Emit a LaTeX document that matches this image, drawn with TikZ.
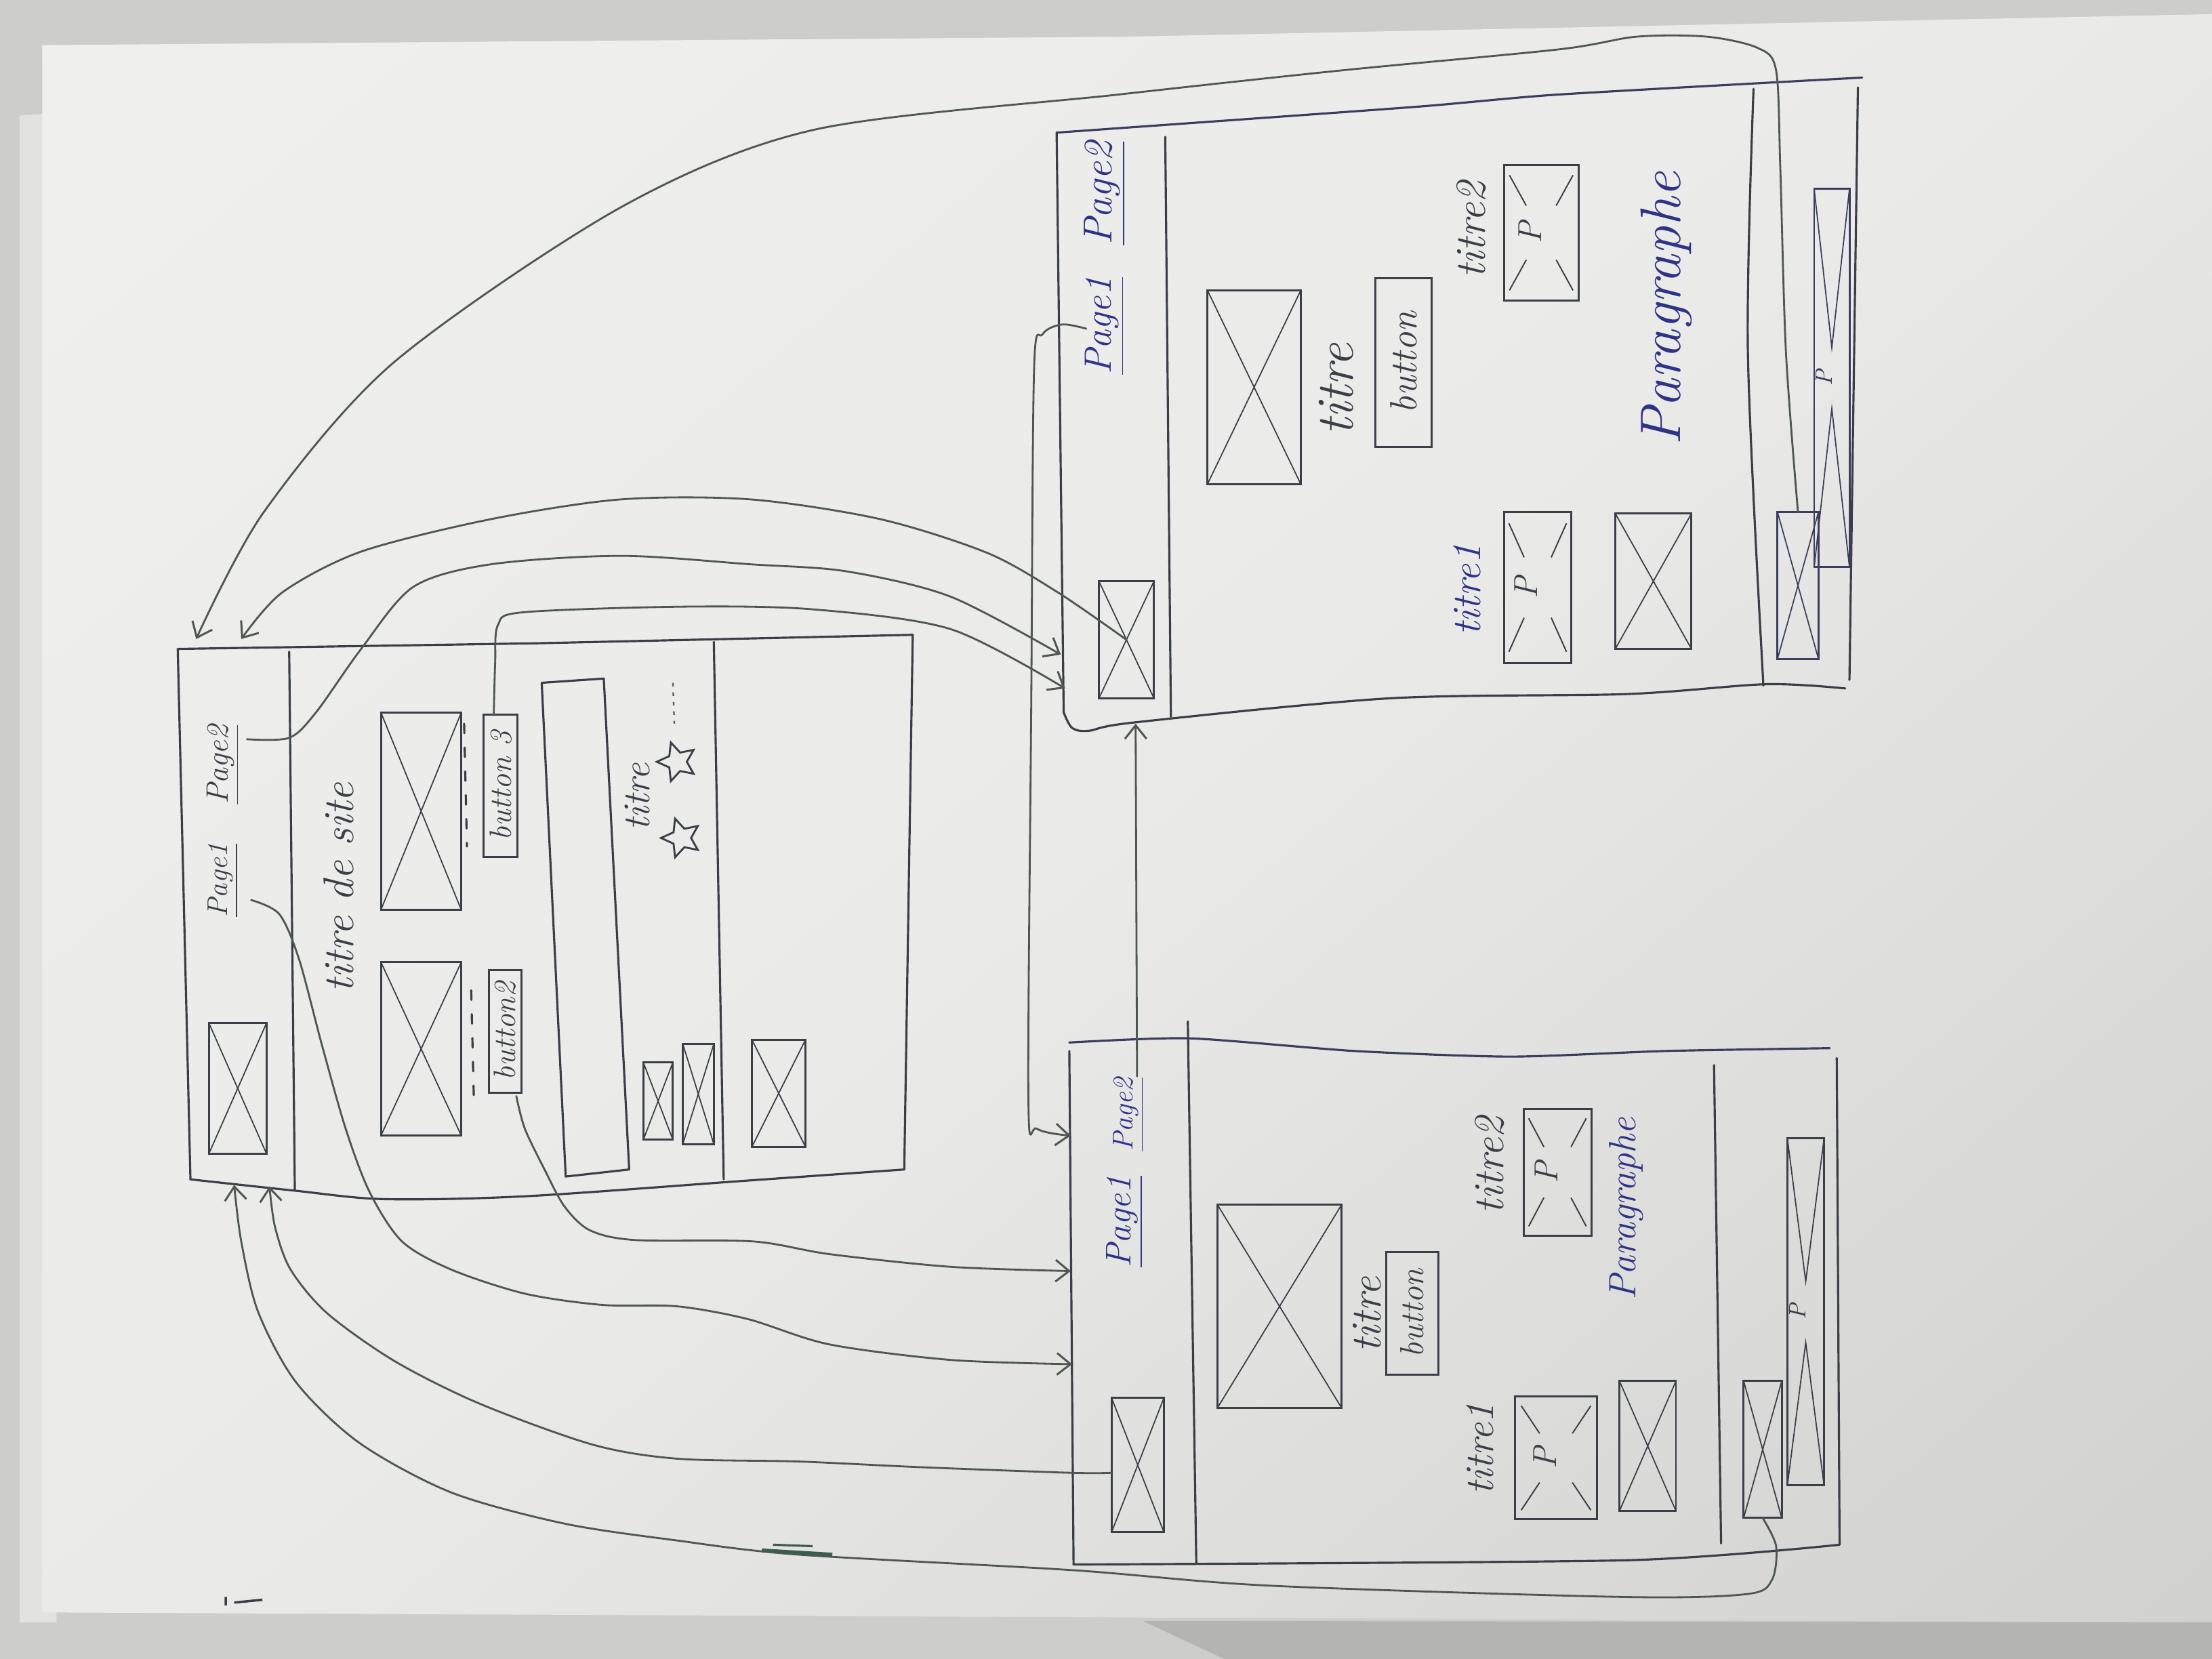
\documentclass[tikz,border=0pt]{standalone}
\usepackage{fontspec}
\usetikzlibrary{arrows.meta,shapes.geometric,fit,calc}
\definecolor{bgA}{HTML}{CDCDCB}
\definecolor{bgB}{HTML}{B4B4B2}
\definecolor{sheet}{HTML}{E2E2E0}
\definecolor{paperA}{HTML}{F2F2F0}
\definecolor{paperB}{HTML}{EAEAE8}
\definecolor{paperM}{HTML}{DADAD8}
\definecolor{paperC}{HTML}{C6C6C4}
\definecolor{ink}{HTML}{3A3E46}
\definecolor{soft}{HTML}{5E626B}
\definecolor{blueink}{HTML}{2F3386}
\definecolor{slate}{HTML}{3A3D5E}
\definecolor{wire}{HTML}{4E5752}
\definecolor{smear}{HTML}{3E5C4C}
\pgfdeclareverticalshading{papershade}{100bp}{color(0bp)=(paperC); color(28bp)=(paperM); color(50bp)=(paperB); color(100bp)=(paperA)}
\newcommand{\handsz}[1]{\itshape\fontsize{#1}{#1}\selectfont}
\tikzset{
  pen/.style={draw=ink, line width=0.9pt, line cap=round, line join=round},
  bpen/.style={draw=slate, line width=0.9pt, line cap=round, line join=round},
  link/.style={draw=wire, line width=0.8pt, line cap=round, line join=round},
  tipped/.style={-{Straight Barb[length=2mm,width=3.2mm,line width=0.85pt]}},
  ximg/.style={draw=#1, line width=0.85pt, inner sep=0pt, outer sep=0pt,
    path picture={\draw[draw=#1, line width=0.5pt]
      (path picture bounding box.north west) -- (path picture bounding box.south east)
      (path picture bounding box.north east) -- (path picture bounding box.south west);}},
  ximg/.default=ink,
  pimg/.style={draw=#1, line width=0.85pt, inner sep=0pt, outer sep=0pt,
    path picture={
      \coordinate (ppc) at (path picture bounding box.center);
      \foreach \crn in {north west,north east,south west,south east}{
        \draw[draw=#1, line width=0.55pt] ($(path picture bounding box.\crn)!0.15!(ppc)$) -- ($(path picture bounding box.\crn)!0.6!(ppc)$);}
      \node[rotate=90, inner sep=0pt, text=#1, font=\handsz{14}] at (ppc) {P};}},
  pimg/.default=ink,
  longp/.style={draw=#1, line width=0.85pt, inner sep=0pt, outer sep=0pt,
    path picture={
      \coordinate (ppc) at (path picture bounding box.center);
      \draw[draw=#1, line width=0.5pt]
        (path picture bounding box.north west) -- ($(ppc)+(0,0.45cm)$) -- (path picture bounding box.north east)
        (path picture bounding box.south west) -- ($(ppc)+(0,-0.45cm)$) -- (path picture bounding box.south east);
      \node[rotate=90, inner sep=0pt, text=#1, font=\handsz{10}] at (ppc) {P};}},
  longp/.default=ink,
  btn/.style={draw=ink, line width=0.85pt, rotate=90, inner sep=0pt, text=ink},
  hand/.style={rotate=90, inner sep=0pt, text=ink},
  star5/.style={star, star points=5, star point ratio=2.1, draw=ink, line width=0.8pt,
    minimum size=0.6cm, inner sep=0pt, rotate=90},
}
\begin{document}
\begin{tikzpicture}[x=0.0208163cm, y=-0.0208163cm]
\useasboundingbox (0,0) rectangle (1568,1176);
% ---------- photo background ----------
\fill[bgA] (0,0) rectangle (1568,1176);
\fill[sheet] (14,82) -- (40,80) -- (40,1150) -- (14,1150) -- cycle;
\shade[shading=papershade, shading angle=40]
  (30,32) -- (800,26) -- (1568,10) -- (1568,1150) -- (30,1143) -- cycle;
\fill[bgB] (810,1149) -- (1568,1150) -- (1568,1176) -- (868,1176) -- cycle;
\draw[ink, line width=1pt] (160,1132) -- (160,1138) (166,1136) -- (186,1134);

% ---------- home page (left) ----------
\draw[pen] (126,460) -- (380,456) -- (647,450) -- (641,829);
\draw[pen] (126,460) -- (135,836);
\draw[pen] plot[smooth,tension=0.5] coordinates {(135,836) (209,844) (272,850) (372,848) (528,837) (641,829)};
\draw[pen] (205,462) -- (209,844);
\draw[pen] (506,455) -- (513,836);
\draw[pen] (384,484) -- (428,481) -- (446,829) -- (401,834) -- cycle;

\node[hand, font=\handsz{12}] (LP1) at (158,624) {\underline{Page1}};
\node[hand, font=\handsz{13}] (LP2) at (158,542) {\underline{Page2}};
\node[hand, font=\handsz{18}] (Ltitle) at (240,629) {titre de site};
\node[ximg, fit={(148,725) (189,818)}] (Llogo) {};
\node[ximg, fit={(270,505) (327,645)}] (Limg1) {};
\node[ximg, fit={(270,682) (327,805)}] (Limg2) {};
\node[btn, minimum width=2.1cm, minimum height=0.5cm, font=\handsz{13}] (Lb3) at (355,557) {button 3};
\node[btn, minimum width=1.81cm, minimum height=0.48cm, font=\handsz{13}] (Lb2) at (358,731) {button2};
\draw[pen, dash pattern=on 4pt off 6pt] (329,513) -- (331,600);
\draw[pen, dash pattern=on 4pt off 6pt] (334,702) -- (336,783);
\node[hand, font=\handsz{16}] (Ltitre) at (452,565) {titre};
\node[star5] (Lstar1) at (480,540) {};
\node[star5] (Lstar2) at (483,594) {};
\draw[soft, line width=0.7pt, dash pattern=on 1.5pt off 2.5pt] (477,484) -- (478,513);
\node[ximg, fit={(456,753) (477,808)}] (Ls1) {};
\node[ximg, fit={(484,740) (506,811)}] (Ls2) {};
\node[ximg, fit={(533,737) (571,813)}] (Lfoot) {};

% ---------- page 2 (top right) ----------
\draw[bpen] plot[smooth,tension=0.4] coordinates {(749,94) (1000,76) (1105,67) (1320,55)};
\draw[pen] (749,94) -- (754,505);
\draw[pen] plot[smooth,tension=0.5] coordinates {(754,505) (760,516) (772,518) (805,512) (985,495) (1153,492) (1252,485) (1308,488)};
\draw[pen] (1317,62) -- (1311,482);
\draw[pen] (826,97) -- (830,508);
\draw[pen] plot[smooth,tension=0.5] coordinates {(1243,63) (1239,250) (1250,486)};

\node[hand, text=blueink, font=\handsz{16}] (TRP1) at (783,231) {\underline{Page1}};
\node[hand, text=blueink, font=\handsz{17}] (TRP2) at (783,137) {\underline{Page2}};
\node[ximg, fit={(779,412) (818,495)}] (TRlogo) {};
\node[ximg, fit={(856,206) (922,343)}] (TRimg) {};
\node[hand, font=\handsz{22}] (TRtitre) at (947,276) {titre};
\node[btn, minimum width=2.48cm, minimum height=0.83cm, font=\handsz{16}] (TRbtn) at (995,257) {button};
\node[hand, font=\handsz{18}] (TRt2) at (1043,163) {titre2};
\node[pimg, fit={(1066,117) (1119,213)}] (TRp2) {};
\node[hand, text=blueink, font=\handsz{24}] (TRpara) at (1181,219) {Paragraphe};
\node[hand, text=blueink, font=\handsz{17}] (TRt1) at (1040,418) {titre1};
\node[pimg, fit={(1066,363) (1114,470)}] (TRp1) {};
\node[ximg, fit={(1145,364) (1199,460)}] (TRx) {};
\node[ximg=slate, fit={(1260,363) (1289,467)}] (TRflogo) {};
\node[longp=slate, fit={(1286,134) (1311,402)}] (TRlong) {};

% ---------- page 1 (bottom right) ----------
\draw[bpen] plot[smooth,tension=0.4] coordinates {(758,739) (843,736) (960,745) (1071,749) (1181,745) (1297,743)};
\draw[pen] (758,745) -- (761,1109);
\draw[pen] plot[smooth,tension=0.4] coordinates {(761,1109) (1153,1106) (1304,1095)};
\draw[pen] (1302,750) -- (1304,1095);
\draw[pen] (842,724) -- (848,1108);
\draw[pen] (1215,755) -- (1220,1094);

\node[hand, text=blueink, font=\handsz{15}] (BRP1) at (797,866) {\underline{Page1}};
\node[hand, text=blueink, font=\handsz{12}] (BRP2) at (800,790) {\underline{Page2}};
\node[ximg, fit={(788,991) (825,1086)}] (BRlogo) {};
\node[ximg, fit={(863,854) (951,998)}] (BRimg) {};
\node[hand, font=\handsz{18}] (BRtitre) at (969,932) {titre};
\node[btn, minimum width=1.81cm, minimum height=0.77cm, font=\handsz{14}] (BRbtn) at (1001,931) {button};
\node[hand, font=\handsz{18}] (BRt2) at (1056,826) {titre2};
\node[pimg, fit={(1080,786) (1128,876)}] (BRp2) {};
\node[hand, text=blueink, font=\handsz{16}] (BRpara) at (1153,857) {Paragraphe};
\node[hand, font=\handsz{17}] (BRt1) at (1049,1027) {titre1};
\node[pimg, fit={(1074,990) (1132,1077)}] (BRp1) {};
\node[ximg, fit={(1148,979) (1188,1071)}] (BRx) {};
\node[ximg, fit={(1236,979) (1263,1076)}] (BRflogo) {};
\node[longp, fit={(1267,807) (1293,1053)}] (BRlong) {};

% ---------- connector ends ----------
\coordinate (LtopA) at (139,453);
\coordinate (LtopB) at (171,453);
\coordinate (LP2out) at (175,524);
\coordinate (LP1out) at (178,638);
\coordinate (Lb3out) at (350,507);
\coordinate (Lb2out) at (366,777);
\coordinate (LbotJ) at (166,840);
\coordinate (LbotI) at (191,841);
\coordinate (TRinC) at (752,464);
\coordinate (TRinD) at (755,488);
\coordinate (TRbotE) at (805,513);
\coordinate (TRP1out) at (770,233);
\coordinate (BRinF) at (759,805);
\coordinate (BRinH) at (759,901);
\coordinate (BRinG) at (760,967);
\coordinate (BRP2out) at (806,763);
\coordinate (BRlogoL) at (788,1044);

% ---------- connectors ----------
\draw[link, tipped] plot[smooth] coordinates {(TRflogo.north) (1266,250) (1262,120) (1259,50) (1246,34) (1210,26) (1160,26) (1105,35) (950,50) (793,67) (577,92) (440,147) (279,257) (187,363) (LtopA)};
\draw[link, tipped] plot[smooth] coordinates {(TRlogo.center) (750,420) (700,392) (624,368) (532,354) (440,354) (348,368) (256,391) (200,420) (LtopB)};
\draw[link, tipped] plot[smooth] coordinates {(LP2out) (205,523) (224,505) (256,460) (293,416) (348,400) (440,394) (532,400) (600,405) (674,423) (TRinC)};
\draw[link, tipped] plot[smooth] coordinates {(Lb3out) (351,470) (353,443) (371,434) (486,430) (577,432) (674,446) (TRinD)};
\draw[link, tipped] (BRP2out) -- (TRbotE);
\draw[link, tipped] plot[smooth,tension=0.5] coordinates {(TRP1out) (753,230) (739,237) (733,262) (731,500) (729,780) (735,800) (BRinF)};
\draw[link, tipped] plot[smooth] coordinates {(LP1out) (198,648) (212,680) (228,740) (245,800) (262,845) (285,880) (320,900) (372,917) (427,925) (480,926) (530,935) (588,953) (674,964) (BRinG)};
\draw[link, tipped] plot[smooth] coordinates {(Lb2out) (372,800) (386,829) (400,855) (418,872) (450,879) (534,880) (588,889) (674,898) (BRinH)};
\draw[link, tipped] plot[smooth] coordinates {(BRlogoL) (759,1044) (652,1040) (566,1036) (480,1034) (420,1024) (340,995) (280,965) (232,931) (206,900) (195,870) (LbotI)};
\draw[link, tipped] plot[smooth] coordinates {(BRflogo.south) (1259,1096) (1256,1120) (1238,1130) (1150,1132) (900,1124) (760,1113) (566,1102) (480,1092) (400,1080) (320,1058) (255,1023) (210,980) (183,930) (171,880) (LbotJ)};
\draw[smear, line width=1.6pt] (540,1099) -- (590,1102);
\draw[smear, line width=0.9pt] (548,1095) -- (576,1096);
\end{tikzpicture}
\end{document}
